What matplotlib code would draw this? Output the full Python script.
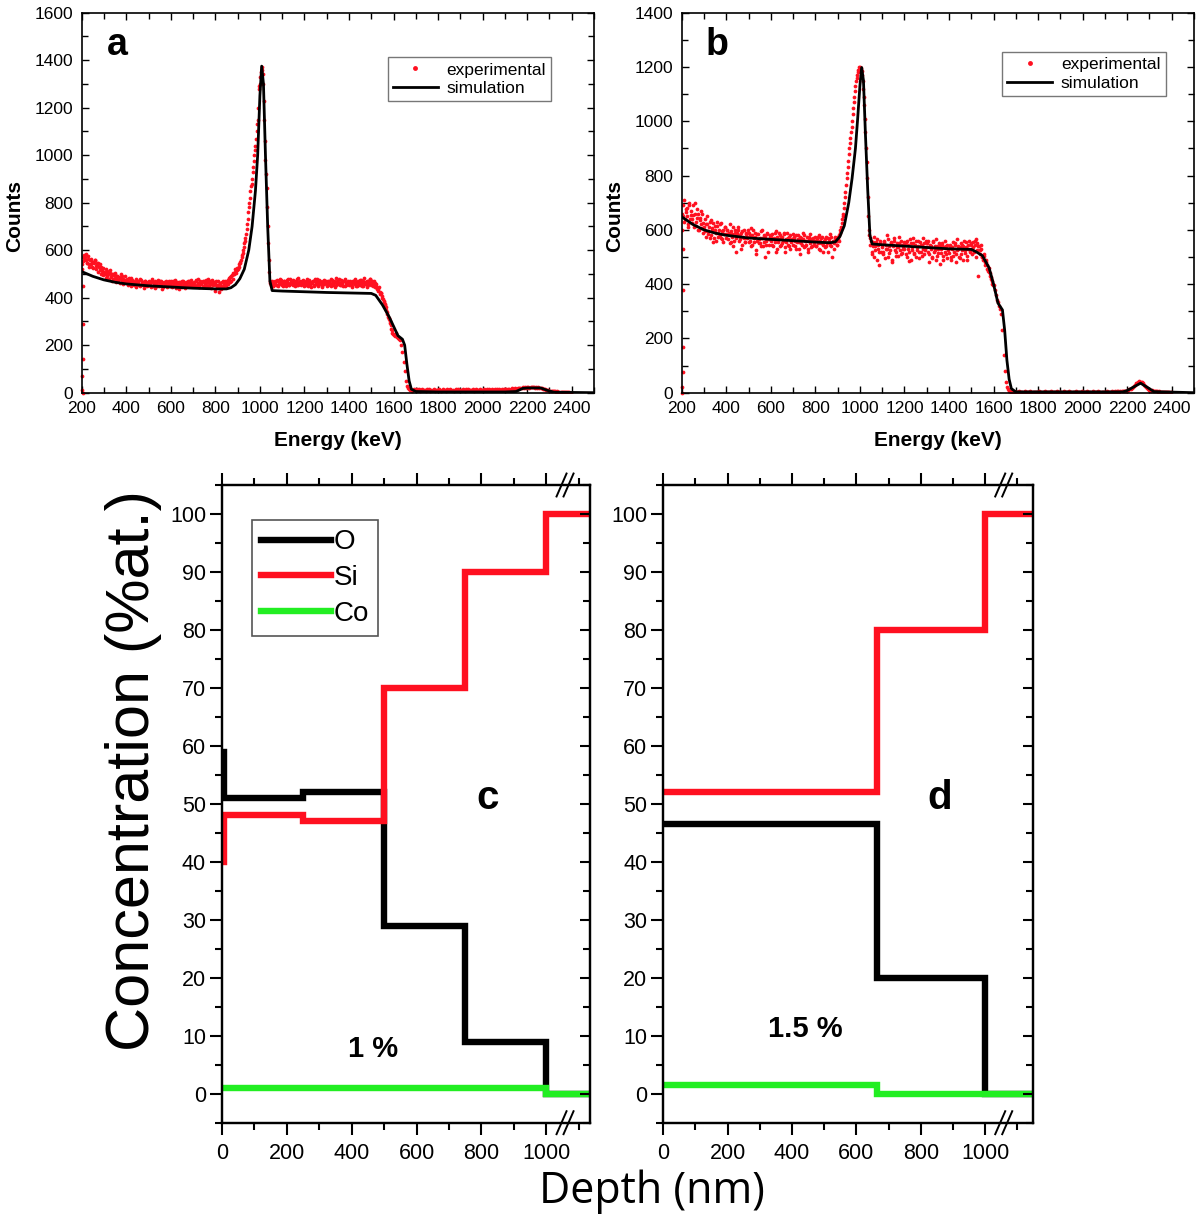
import numpy as np
import matplotlib
matplotlib.use("Agg")
import matplotlib.pyplot as plt
from matplotlib.ticker import MultipleLocator

plt.rcParams['font.family'] = ['Liberation Sans', 'DejaVu Sans']

# ---- RBS spectra: channels every 5 keV from 200 keV ----
exp_a = [
    520, 555, 580, 570, 560, 548, 575, 540, 565, 530, 550, 545, 560, 520, 538, 548, 515, 530, 505, 525,
    510, 498, 520, 492, 505, 515, 488, 500, 480, 495, 505, 478, 490, 470, 485, 500, 468, 480, 472, 490,
    465, 478, 458, 470, 485, 460, 472, 455, 468, 480, 462, 470, 450, 475, 460, 468, 455, 472, 462, 458,
    470, 455, 465, 478, 450, 462, 470, 458, 448, 465, 472, 455, 460, 445, 468, 458, 462, 450, 470, 455,
    462, 448, 470, 455, 465, 440, 458, 468, 452, 462, 445, 470, 455, 460, 448, 465, 472, 450, 458, 462,
    455, 468, 448, 475, 460, 452, 470, 458, 465, 445, 472, 455, 462, 480, 450, 468, 458, 475, 452, 465,
    428, 470, 455, 440, 462, 450, 468, 445, 458, 470, 462, 475, 480, 488, 470, 495, 505, 500, 520, 515,
    520, 530, 545, 560, 580, 600, 630, 650, 690, 730, 780, 820, 870, 900, 950, 1000, 1040, 1100, 1150, 1280,
    1300, 1350, 1370, 1300, 1150, 980, 860, 700, 560, 470, 455, 470, 448, 460, 465, 452, 470, 458, 462, 475,
    465, 450, 470, 458, 475, 462, 455, 480, 460, 468, 452, 472, 460, 478, 455, 465, 470, 458, 462, 475,
    458, 470, 462, 448, 475, 455, 468, 460, 472, 450, 465, 478, 455, 462, 470, 458, 445, 468, 475, 460,
    462, 455, 470, 458, 448, 475, 460, 465, 452, 470, 458, 480, 462, 455, 468, 472, 450, 462, 458, 470,
    455, 468, 462, 450, 472, 458, 465, 448, 470, 460, 455, 475, 462, 450, 468, 458, 445, 470, 462, 480,
    455, 470, 448, 462, 450, 440, 430, 445, 415, 420, 400, 385, 375, 360, 340, 320, 310, 295, 270, 250,
    245, 240, 250, 235, 230, 225, 220, 200, 170, 130, 90, 50, 30, 20, 15, 10, 12, 8, 15, 10,
    12, 15, 10, 14, 8, 12, 16, 10, 13, 9, 14, 11, 15, 8, 12, 10, 16, 9, 13, 11,
    10, 14, 12, 9, 15, 11, 13, 8, 14, 12, 10, 16, 11, 13, 9, 12, 15, 10, 14, 11,
    13, 10, 15, 12, 9, 14, 11, 16, 12, 10, 13, 15, 9, 12, 14, 11, 13, 10, 16, 12,
    12, 15, 10, 13, 16, 11, 14, 12, 17, 10, 13, 15, 12, 16, 11, 14, 13, 17, 12, 15,
    14, 16, 12, 17, 15, 13, 18, 15, 16, 19, 17, 15, 20, 18, 21, 19, 22, 20, 23, 21,
    22, 24, 21, 23, 25, 22, 24, 21, 23, 20, 22, 19, 21, 18, 17, 15, 14, 12, 11, 10,
    9, 8, 9, 7, 6, 7, 5, 6, 4, 5, 3, 4, 2, 3, 2, 1, 2, 1, 1, 0,
]
# in-between channels (202.5 keV onwards) for the scattered part
exp_a_mid = [
    540, 570, 560, 585, 545, 565, 530, 558, 540, 552, 525, 560, 535, 545, 510, 528, 540, 500, 518, 495,
    505, 485, 512, 498, 478, 502, 490, 470, 498, 482, 465, 492, 475, 488, 462, 478, 490, 458, 475, 468,
    472, 455, 482, 462, 450, 475, 458, 468, 445, 472, 460, 452, 478, 455, 465, 442, 470, 458, 448, 466,
    455, 468, 445, 472, 458, 440, 465, 452, 475, 448, 460, 470, 438, 462, 455, 472, 445, 468, 458, 450,
    470, 445, 460, 475, 448, 465, 455, 435, 468, 450, 472, 458, 442, 466, 455, 470, 448, 460, 475, 452,
    462, 448, 470, 455, 478, 445, 465, 458, 472, 450, 460, 475, 448, 465, 455, 470, 442, 468, 458, 462,
    455, 445, 470, 425, 460, 438, 472, 452, 465, 448, 470, 458, 485, 465, 490, 478, 500, 510, 505, 525,
    525, 540, 552, 570, 590, 615, 640, 670, 710, 760, 800, 850, 880, 930, 975, 1020, 1070, 1130, 1200, 1290,
    1330, 1360, 1340, 1230, 1060, 920, 780, 630, 510, 462, 458, 448, 465, 470, 455, 475, 450, 468, 480, 455,
    458, 472, 462, 450, 468, 480, 452, 470, 458, 475, 462, 448, 470, 455, 482, 460, 452, 472, 465, 450,
    468, 452, 478, 460, 470, 445, 465, 472, 455, 480, 458, 468, 450, 475, 462, 448, 472, 458, 465, 470,
    450, 472, 460, 478, 462, 455, 470, 445, 482, 460, 468, 452, 475, 458, 448, 470, 478, 455, 468, 462,
    472, 458, 445, 470, 462, 480, 450, 468, 455, 475, 462, 448, 470, 485, 458, 465, 472, 455, 478, 468,
    465, 458, 472, 445, 458, 435, 438, 425, 418, 408, 395, 380, 368, 350, 330, 315, 300, 285, 262, 248,
]
exp_b = [
    600, 650, 710, 640, 665, 680, 620, 700, 655, 640, 690, 610, 660, 630, 675, 600, 645, 620, 660, 590,
    610, 640, 575, 620, 595, 630, 580, 605, 625, 570, 600, 560, 615, 590, 580, 625, 565, 600, 585, 610,
    570, 600, 585, 550, 595, 575, 610, 560, 590, 520, 580, 600, 565, 590, 545, 575, 600, 555, 585, 570,
    590, 560, 540, 580, 600, 555, 575, 510, 585, 565, 550, 595, 570, 540, 580, 500, 560, 590, 545, 575,
    560, 585, 540, 570, 555, 595, 530, 565, 580, 545, 575, 560, 590, 520, 555, 570, 540, 580, 555, 565,
    545, 575, 560, 530, 580, 555, 510, 570, 545, 565, 580, 540, 560, 530, 575, 550, 565, 540, 570, 555,
    560, 540, 575, 530, 560, 550, 575, 520, 555, 565, 540, 570, 555, 545, 575, 500, 560, 550, 570, 545,
    565, 580, 590, 610, 640, 660, 700, 740, 790, 830, 880, 920, 960, 1000, 1050, 1090, 1130, 1160, 1180, 1190,
    1200, 1195, 1170, 1120, 1060, 960, 850, 720, 600, 570, 560, 520, 555, 500, 540, 565, 530, 470, 550, 520,
    545, 510, 560, 530, 580, 500, 540, 525, 555, 490, 545, 570, 520, 535, 505, 550, 525, 560, 515, 540,
    530, 555, 500, 545, 520, 565, 490, 535, 550, 510, 560, 525, 540, 495, 555, 520, 545, 570, 510, 535,
    550, 520, 480, 545, 530, 500, 560, 525, 490, 540, 515, 550, 475, 530, 545, 505, 520, 540, 495, 530,
    515, 545, 490, 530, 505, 550, 480, 525, 540, 500, 535, 510, 545, 490, 525, 555, 505, 530, 560, 520,
    545, 510, 535, 560, 500, 550, 430, 540, 525, 545, 500, 510, 480, 490, 470, 450, 460, 430, 420, 400,
    395, 380, 360, 340, 335, 320, 310, 290, 230, 140, 80, 40, 20, 12, 8, 5, 4, 3, 2, 3,
    4, 2, 3, 5, 2, 4, 3, 2, 5, 3, 4, 2, 3, 5, 2, 4, 3, 2, 4, 3,
    3, 5, 2, 4, 3, 2, 5, 3, 4, 2, 3, 4, 5, 2, 3, 4, 2, 5, 3, 4,
    2, 4, 3, 5, 2, 3, 4, 2, 5, 3, 4, 3, 2, 4, 5, 3, 2, 4, 3, 5,
    3, 2, 4, 3, 5, 2, 4, 3, 2, 5, 3, 4, 2, 3, 5, 4, 2, 3, 4, 2,
    4, 3, 5, 2, 4, 3, 5, 4, 3, 5, 4, 6, 5, 4, 6, 5, 7, 6, 8, 7,
    8, 10, 12, 15, 18, 22, 26, 30, 34, 37, 40, 42, 40, 38, 35, 30, 25, 20, 16, 12,
    10, 8, 9, 7, 6, 7, 5, 6, 4, 5, 3, 4, 2, 3, 2, 3, 1, 2, 1, 1,
]
exp_b_mid = [
    660, 690, 630, 675, 650, 610, 690, 640, 670, 625, 655, 700, 615, 645, 660, 600, 635, 670, 605, 625,
    595, 620, 650, 585, 610, 570, 635, 600, 555, 615, 590, 630, 575, 600, 620, 570, 595, 555, 610, 585,
    600, 565, 590, 620, 555, 585, 540, 600, 570, 590, 610, 560, 580, 530, 595, 570, 555, 590, 575, 600,
    555, 580, 605, 545, 570, 590, 525, 560, 585, 550, 570, 540, 600, 555, 575, 545, 585, 520, 565, 580,
    575, 545, 565, 590, 520, 575, 555, 590, 540, 570, 550, 585, 535, 565, 590, 545, 575, 530, 560, 585,
    570, 540, 580, 555, 565, 530, 575, 550, 590, 535, 560, 545, 575, 520, 565, 585, 535, 560, 545, 575,
    540, 565, 550, 580, 525, 570, 545, 560, 535, 575, 550, 520, 565, 585, 540, 555, 530, 575, 560, 545,
    575, 560, 600, 625, 650, 680, 720, 765, 810, 855, 900, 940, 980, 1025, 1070, 1110, 1150, 1170, 1190, 1200,
    1190, 1185, 1150, 1090, 1010, 900, 790, 650, 580, 545, 510, 540, 575, 525, 555, 490, 545, 520, 560, 535,
    520, 555, 495, 545, 530, 565, 515, 550, 480, 540, 560, 525, 505, 550, 535, 575, 510, 545, 530, 555,
    545, 510, 560, 530, 485, 550, 525, 570, 515, 545, 500, 535, 560, 520, 545, 505, 530, 550, 525, 560,
    535, 560, 510, 540, 495, 555, 520, 540, 565, 505, 530, 545, 515, 550, 490, 535, 560, 510, 545, 525,
    540, 500, 535, 555, 520, 545, 510, 565, 530, 495, 550, 525, 540, 560, 515, 535, 490, 545, 525, 550,
    530, 555, 520, 545, 565, 525, 540, 510, 530, 500, 490, 505, 470, 480, 455, 445, 440, 425, 410, 398,
]
# scattered low points near the start of the spectra
low_a_x = [202, 203, 204, 205, 206, 207]
low_a_y = [10, 70, 140, 290, 450, 0]
low_b_x = [202, 203, 204, 205, 206, 208]
low_b_y = [0, 20, 75, 170, 380, 530]

sim_x = [200, 250, 300, 350, 400, 500, 600, 700, 800, 850, 870, 890, 910, 930, 950, 965, 980, 990, 1000, 1008,
         1016, 1025, 1035, 1045, 1055, 1100, 1200, 1300, 1400, 1500, 1520, 1550, 1580, 1600, 1620, 1640, 1650,
         1660, 1670, 1680, 1700, 1800, 2100, 2150, 2180, 2200, 2260, 2290, 2320, 2500]
sim_a = [510, 490, 475, 465, 458, 450, 445, 440, 437, 437, 442, 455, 480, 520, 600, 700, 850, 1000, 1250, 1375,
         1300, 1000, 700, 470, 430, 428, 425, 422, 420, 418, 410, 370, 320, 280, 240, 225, 200,
         120, 50, 15, 5, 3, 3, 5, 18, 20, 20, 10, 2, 0]
sim_b = [648, 620, 600, 588, 580, 570, 565, 560, 555, 553, 553, 556, 575, 615, 700, 790, 900, 1010, 1130, 1198,
         1150, 950, 750, 580, 548, 545, 540, 535, 530, 528, 520, 505, 460, 400, 330, 305, 230,
         120, 50, 15, 3, 3, 3, 3, 3, 8, 35, 20, 4, 0]

# ---- depth profiles (layer edges in nm, concentrations in %at.) ----
edges_c = [0, 6, 250, 500, 750, 1000, 1135]
O_c = [59, 51, 52, 29, 9, 0]
Si_c = [40, 48, 47, 70, 90, 100]
Co_c = [1, 1, 1, 1, 1, 0]

edges_d = [0, 665, 1000, 1149]
O_d = [46.5, 20, 0]
Si_d = [52, 80, 100]
Co_d = [1.5, 0, 0]

RED = '#ff1020'
GREEN = '#22ee22'
W, H = 1200, 1220

fig = plt.figure(figsize=(12, 12.2), dpi=100)


def px_rect(x0, y0, x1, y1):
    return [x0 / W, 1 - y1 / H, (x1 - x0) / W, (y1 - y0) / H]


def spectrum_panel(rect, exp_y, exp_mid, low_x, low_y, sim_y, ymax, letter, leg_anchor):
    ax = fig.add_axes(rect)
    energy = np.arange(200, 200 + 5 * len(exp_y), 5)
    energy_mid = np.arange(202.5, 202.5 + 5 * len(exp_mid), 5)
    ax.plot(energy, exp_y, 'o', ms=2.7, mew=0, color=RED, label='experimental')
    ax.plot(energy_mid, exp_mid, 'o', ms=2.7, mew=0, color=RED, label='_nolegend_')
    ax.plot(low_x, low_y, 'o', ms=2.7, mew=0, color=RED, label='_nolegend_', clip_on=False)
    ax.plot(sim_x, sim_y, color='black', lw=2, label='simulation')
    ax.set_xlim(200, 2500)
    ax.set_ylim(0, ymax)
    ax.xaxis.set_major_locator(MultipleLocator(200))
    ax.xaxis.set_minor_locator(MultipleLocator(100))
    ax.yaxis.set_major_locator(MultipleLocator(200))
    ax.yaxis.set_minor_locator(MultipleLocator(100))
    ax.tick_params(which='both', direction='in', top=True, right=True, width=1)
    ax.tick_params(which='major', length=5, labelsize=12.5, pad=6)
    ax.tick_params(which='minor', length=4)
    for s in ax.spines.values():
        s.set_linewidth(1.2)
    ax.set_xlabel('Energy (keV)', fontsize=15, fontweight='bold')
    ax.set_ylabel('Counts', fontsize=15, fontweight='bold')
    ax.xaxis.set_label_coords(0.5, -0.1)
    ax.yaxis.set_label_coords(-0.113, 0.465)
    ax.text(0.069, 0.915, letter, transform=ax.transAxes, fontsize=27, fontweight='bold',
            ha='center', va='center')
    leg = ax.legend(loc='upper left', bbox_to_anchor=leg_anchor, borderaxespad=0, fontsize=12.5,
                    numpoints=1, markerscale=1.3, handlelength=2.6, handletextpad=0.5,
                    labelspacing=0.2, borderpad=0.3, fancybox=False, framealpha=1)
    leg.get_frame().set_edgecolor('#777777')
    leg.get_frame().set_linewidth(1)
    return ax


spectrum_panel(px_rect(81.7, 12.7, 594, 392.7), exp_a, exp_a_mid, low_a_x, low_a_y, sim_a, 1600, 'a',
               (0.597, 0.883))
spectrum_panel(px_rect(681.7, 12.7, 1194, 392.7), exp_b, exp_b_mid, low_b_x, low_b_y, sim_b, 1400, 'b',
               (0.625, 0.897))

NARROW = ['Liberation Sans Narrow', 'Liberation Sans']


def break_marks(ax, xb, nm_per_px):
    tr = ax.get_xaxis_transform()
    for yb in (0.0, 1.0):
        for off in (-3.5, 3.5):
            xc = xb + off * nm_per_px
            ax.plot([xc - 5 * nm_per_px, xc + 5 * nm_per_px], [yb - 0.018, yb + 0.018],
                    color='black', lw=1.4, transform=tr, clip_on=False, zorder=5)


def depth_panel(rect, edges, o, si, co, letter, letter_xy, pct, pct_xy, legend):
    ax = fig.add_axes(rect)
    lw = 4.6
    ax.stairs(o, edges, baseline=None, color='black', lw=lw, label='O')
    ax.stairs(si, edges, baseline=None, color=RED, lw=lw, label='Si')
    ax.stairs(co, edges, baseline=None, color=GREEN, lw=lw, label='Co')
    ax.set_xlim(0, edges[-1])
    ax.set_ylim(-5, 105)
    ax.xaxis.set_major_locator(MultipleLocator(200))
    ax.xaxis.set_minor_locator(MultipleLocator(100))
    ax.yaxis.set_major_locator(MultipleLocator(10))
    ax.yaxis.set_minor_locator(MultipleLocator(5))
    ax.set_xticks([0, 200, 400, 600, 800, 1000])
    ax.tick_params(which='both', direction='out', top=True, width=1.5)
    ax.tick_params(which='major', length=8.5, labelsize=15.5)
    ax.tick_params(axis='x', pad=6)
    ax.tick_params(axis='y', pad=3)
    ax.tick_params(which='minor', length=5)
    for lab in ax.get_xticklabels() + ax.get_yticklabels():
        lab.set_family(NARROW)
    for s in ax.spines.values():
        s.set_linewidth(1.6)
    # inward ticks on the right side
    ax2 = ax.twinx()
    ax2.set_ylim(ax.get_ylim())
    ax2.yaxis.set_major_locator(MultipleLocator(10))
    ax2.yaxis.set_minor_locator(MultipleLocator(5))
    ax2.tick_params(which='both', direction='in', width=1.5, labelright=False)
    ax2.tick_params(which='major', length=7.5)
    ax2.tick_params(which='minor', length=5)
    for s in ax2.spines.values():
        s.set_linewidth(1.6)
    break_marks(ax, 1058, edges[-1] / (rect[2] * W))
    ax.text(letter_xy[0], letter_xy[1], letter, fontsize=29, fontweight='bold', ha='center', va='center')
    ax.text(pct_xy[0], pct_xy[1], pct, fontsize=21, fontweight='bold', ha='center', va='center',
            family=NARROW)
    if legend:
        leg = ax.legend(loc='upper left', bbox_to_anchor=(0.0815, 0.945), borderaxespad=0,
                        prop={'family': NARROW, 'size': 20}, handlelength=2.5, handletextpad=0.1,
                        labelspacing=0.35, borderpad=0.33, fancybox=False, framealpha=1)
        leg.get_frame().set_edgecolor('#555555')
        leg.get_frame().set_linewidth(1.2)
    return ax


depth_panel(px_rect(222, 485, 590, 1122.7), edges_c, O_c, Si_c, Co_c, 'c', (819, 51), '1 %', (467, 7.7), True)
depth_panel(px_rect(663.3, 485, 1033, 1122.7), edges_d, O_d, Si_d, Co_d, 'd', (860, 51), '1.5 %', (440, 11.2), False)

fig.text(134 / W, 1 - 771 / H, 'Concentration (%at.)', rotation=90, ha='center', va='center',
         fontsize=44)
fig.text(652 / W, 1 - 1192 / H, 'Depth (nm)', ha='center', va='center', fontsize=31,
         family=['Open Sans', 'DejaVu Sans'])

fig.savefig('out.png', dpi=100)
